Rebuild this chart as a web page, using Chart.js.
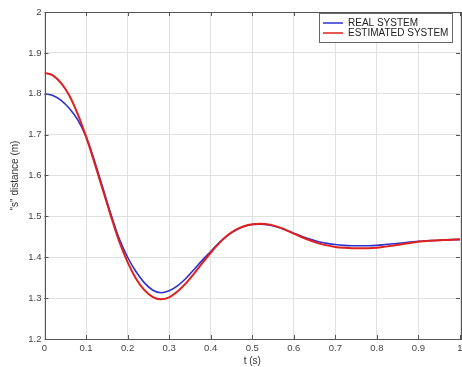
<!DOCTYPE html>
<html><head><meta charset="utf-8">
<script src="https://cdn.jsdelivr.net/npm/chart.js@4"></script>
<style>html,body{margin:0;padding:0;background:#fff}#w{width:462px;height:367px}</style>
</head><body><div id="w"><canvas id="c"></canvas></div>
<script>
const timeS = [0,0.02,0.04,0.06,0.08,0.10,0.12,0.14,0.16,0.18,0.20,0.22,0.24,0.26,0.28,0.30,0.32,0.34,0.36,0.38,0.40,0.42,0.44,0.46,0.48,0.50,0.52,0.54,0.56,0.58,0.60,0.62,0.64,0.66,0.68,0.70,0.72,0.74,0.76,0.78,0.80,0.82,0.84,0.86,0.88,0.90,0.92,0.94,0.96,0.98,1.00];
const realSystem = [1.800,1.796,1.784,1.764,1.736,1.695,1.637,1.571,1.505,1.445,1.400,1.365,1.338,1.320,1.313,1.318,1.330,1.348,1.370,1.393,1.414,1.435,1.453,1.466,1.475,1.480,1.481,1.479,1.474,1.467,1.459,1.451,1.444,1.438,1.434,1.431,1.429,1.428,1.428,1.428,1.429,1.431,1.433,1.435,1.437,1.439,1.440,1.441,1.442,1.443,1.443];
const estimatedSystem = [1.851,1.845,1.826,1.795,1.750,1.695,1.632,1.566,1.500,1.438,1.388,1.348,1.320,1.303,1.297,1.302,1.316,1.336,1.360,1.386,1.411,1.434,1.453,1.467,1.476,1.481,1.482,1.480,1.475,1.467,1.458,1.449,1.441,1.434,1.429,1.425,1.423,1.422,1.422,1.422,1.423,1.426,1.429,1.432,1.435,1.438,1.440,1.441,1.442,1.443,1.444];
const seriesNames = ['REAL SYSTEM','ESTIMATED SYSTEM'];
const xTicks = [0,0.1,0.2,0.3,0.4,0.5,0.6,0.7,0.8,0.9,1];
const yTicks = [1.2,1.3,1.4,1.5,1.6,1.7,1.8,1.9,2];

const toPts = (xs, ys) => xs.map((x,i)=>({x, y: ys[i]}));
const FONT = 'Liberation Sans, Arial, sans-serif';

const framePlugin = {
  id: 'frame',
  afterDatasetsDraw(chart) {
    const {ctx, chartArea: a, scales} = chart;
    ctx.save();
    ctx.strokeStyle = '#555';
    ctx.lineWidth = 1;
    ctx.strokeRect(Math.round(a.left)+0.5, Math.round(a.top)+0.5, Math.round(a.right-a.left), Math.round(a.bottom-a.top));
    ctx.beginPath();
    const tl = 4;
    xTicks.forEach(v => {
      const px = Math.round(scales.x.getPixelForValue(v)) + 0.5;
      ctx.moveTo(px, a.bottom); ctx.lineTo(px, a.bottom - tl);
      ctx.moveTo(px, a.top); ctx.lineTo(px, a.top + tl);
    });
    yTicks.forEach(v => {
      const py = Math.round(scales.y.getPixelForValue(v)) + 0.5;
      ctx.moveTo(a.left, py); ctx.lineTo(a.left + tl, py);
      ctx.moveTo(a.right, py); ctx.lineTo(a.right - tl, py);
    });
    ctx.stroke();
    // legend box
    const bx = a.right - 141, by = a.top + 1, bw = 133, bh = 29;
    ctx.fillStyle = '#fff';
    ctx.fillRect(bx, by, bw, bh);
    ctx.strokeStyle = '#666';
    ctx.strokeRect(bx + 0.5, by + 0.5, bw, bh);
    ctx.font = '10px ' + FONT;
    ctx.textBaseline = 'middle';
    chart.data.datasets.forEach((ds, i) => {
      const ly = by + 10 + i * 10;
      ctx.strokeStyle = ds.borderColor;
      ctx.lineWidth = 1.5;
      ctx.beginPath(); ctx.moveTo(bx + 4, ly); ctx.lineTo(bx + 24, ly); ctx.stroke();
      ctx.fillStyle = '#222';
      ctx.fillText(ds.label, bx + 29, ly + 0.5);
    });
    ctx.restore();
  }
};

new Chart(document.getElementById('c'), {
  type: 'line',
  data: {
    datasets: [
      { label: seriesNames[0], data: toPts(timeS, realSystem), borderColor: '#2f2fd0', borderWidth: 1.6, pointRadius: 0, cubicInterpolationMode: 'monotone', fill: false, order: 1 },
      { label: seriesNames[1], data: toPts(timeS, estimatedSystem), borderColor: '#e0201c', borderWidth: 2, pointRadius: 0, cubicInterpolationMode: 'monotone', fill: false, order: 0 }
    ]
  },
  options: {
    responsive: true, maintainAspectRatio: false, animation: false,
    layout: { padding: { top: 12, right: 2, left: 0, bottom: 0 } },
    plugins: { legend: { display: false }, tooltip: { enabled: false } },
    scales: {
      x: {
        type: 'linear', min: 0, max: 1,
        afterBuildTicks: s => { s.ticks = xTicks.map(v => ({value: v})); },
        afterFit: s => { s.height = 28; s.paddingLeft = 0; s.paddingRight = 0; },
        grid: { color: '#e0e0e0', lineWidth: 1, drawTicks: false },
        border: { display: false },
        ticks: { padding: 4, color: '#444', font: { family: FONT, size: 9.5 }, maxRotation: 0, callback: v => String(v) },
        title: { display: true, text: 't (s)', color: '#333', font: { family: FONT, size: 10 }, padding: { top: 0, bottom: 0 } }
      },
      y: {
        type: 'linear', min: 1.2, max: 2,
        afterBuildTicks: s => { s.ticks = yTicks.map(v => ({value: v})); },
        afterFit: s => { s.width = 44.5; },
        grid: { color: '#e0e0e0', lineWidth: 1, drawTicks: false },
        border: { display: false },
        ticks: { padding: 3, color: '#444', font: { family: FONT, size: 9.5 }, callback: v => String(v) },
        title: { display: true, text: '"s" distance (m)', color: '#333', font: { family: FONT, size: 10 }, padding: { top: 9, bottom: 2 } }
      }
    }
  },
  plugins: [framePlugin]
});
</script></body></html>
